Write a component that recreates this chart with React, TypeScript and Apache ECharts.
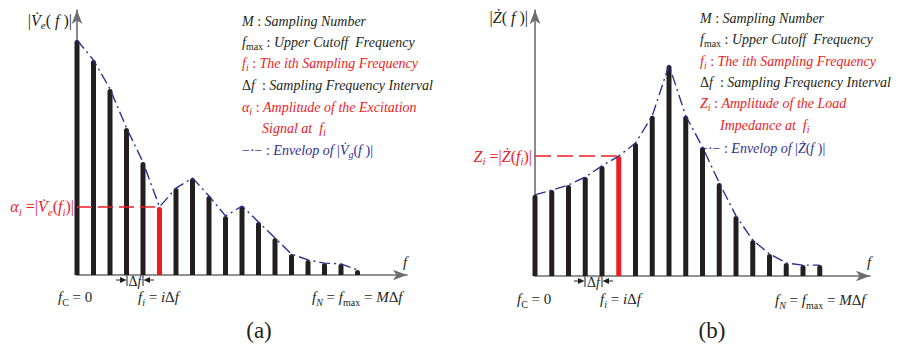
import React, { useEffect, useRef } from 'react';
import * as echarts from 'echarts';

// ---- data ----
const sampleIndex = [0, 1, 2, 3, 4, 5, 6, 7, 8, 9, 10, 11, 12, 13, 14, 15, 16, 17];
const excitationAmp = [88.7, 81.1, 70.2, 55.5, 42.6, 25.7, 32.8, 36.6, 29.8, 22.3, 26.0, 20.0, 14.0, 7.9, 5.7, 4.5, 4.2, 1.9];
const loadImpedance = [30.5, 32.3, 34.2, 37.2, 41.4, 45.1, 50.0, 60.2, 79.3, 60.2, 48.5, 35.0, 22.6, 13.5, 8.3, 4.9, 4.1, 4.1];
const highlightIndex = 5;

const leftLegendLines = [
  '{it|M}{rm| : }{it|Sampling Number}',
  '{it|f}{subrm|max}{rm| : }{it|Upper Cutoff  Frequency}',
  '{it|f}{sub|i}{rm| : }{it|The ith Sampling Frequency}',
  '{rm|Δ}{it|f}{rm|  : }{it|Sampling Frequency Interval}',
  '{it|α}{sub|i}{rm| : }{it|Amplitude of the Excitation}',
  '{it|Signal at  f}{sub|i}',
  '{rm|−·−}{rm| : }{it|Envelop of }{rm||}{it|V̇}{sub|g}{rm|(}{it|f}{rm| )|}',
];
const rightLegendLines = [
  '{it|M}{rm| : }{it|Sampling Number}',
  '{it|f}{subrm|max}{rm| : }{it|Upper Cutoff  Frequency}',
  '{it|f}{sub|i}{rm| : }{it|The ith Sampling Frequency}',
  '{rm|Δ}{it|f}{rm|  : }{it|Sampling Frequency Interval}',
  '{it|Z}{sub|i}{rm| : }{it|Amplitude of the Load}',
  '{it|Impedance at  f}{sub|i}',
  '{rm|−·−}{rm| : }{it|Envelop of }{rm||}{it|Ż}{rm|(}{it|f}{rm| )|}',
];
const leftYLabel = '{rm||}{it|V̇}{sub|e}{rm|( }{it|f}{rm| )|}';
const rightYLabel = '{rm||}{it|Ż}{rm|( }{it|f}{rm| )|}';
const leftRedLabel = '{it|α}{sub|i}{rm| =|}{it|V̇}{sub|e}{rm|(}{it|f}{sub|i}{rm|)|}';
const rightRedLabel = '{it|Z}{sub|i}{rm| =|}{it|Ż}{rm|(}{it|f}{sub|i}{rm|)|}';
const f0Label = '{it|f}{subrm|C}{rm| = 0}';
const fiLabel = '{it|f}{sub|i}{rm| = }{it|i}{rm|Δ}{it|f}';
const fNLabel = '{it|f}{sub|N}{rm| = }{it|f}{subrm|max}{rm| = }{it|M}{rm|Δ}{it|f}';
const dfLabel = '{rm|Δ}{it|f}';

// ---- styles ----
const FONT = "'Liberation Serif', 'Times New Roman', serif";
const BLACK = '#231f20';
const RED = '#ed1c24';
const NAVY = '#2e3192';
const AXIS = '#6d6e71';

function zrRich(size: number, fill: string) {
  const lh = Math.round(size * 1.3);
  const sub = Math.round(size * 0.68);
  const base = { fontFamily: FONT, fill, lineHeight: lh };
  return {
    it: { ...base, fontSize: size, fontStyle: 'italic', verticalAlign: 'middle' },
    rm: { ...base, fontSize: size, fontStyle: 'normal', verticalAlign: 'middle' },
    sub: { ...base, fontSize: sub, fontStyle: 'italic', verticalAlign: 'bottom' },
    subrm: { ...base, fontSize: sub, fontStyle: 'normal', verticalAlign: 'bottom' },
  };
}
function ecRich(size: number, color: string) {
  const lh = Math.round(size * 1.3);
  const sub = Math.round(size * 0.68);
  const base = { fontFamily: FONT, color, lineHeight: lh };
  return {
    it: { ...base, fontSize: size, fontStyle: 'italic', verticalAlign: 'middle' },
    rm: { ...base, fontSize: size, fontStyle: 'normal', verticalAlign: 'middle' },
    sub: { ...base, fontSize: sub, fontStyle: 'italic', verticalAlign: 'bottom' },
    subrm: { ...base, fontSize: sub, fontStyle: 'normal', verticalAlign: 'bottom' },
  };
}
function txt(x: number, y: number, text: string, size: number, fill: string, align = 'left') {
  return {
    type: 'text',
    x,
    y,
    silent: true,
    style: {
      text,
      rich: zrRich(size, fill),
      fill,
      fontFamily: FONT,
      fontSize: size,
      align,
      verticalAlign: 'middle',
      textAlign: align,
      textVerticalAlign: 'middle',
    },
  };
}
function bracket(xl: number, xr: number, y: number) {
  const s = { stroke: BLACK, lineWidth: 1 };
  return [
    { type: 'line', silent: true, shape: { x1: xl - 11, y1: y, x2: xl - 3, y2: y }, style: s },
    { type: 'polygon', silent: true, shape: { points: [[xl - 7, y - 3], [xl - 0.5, y], [xl - 7, y + 3]] }, style: { fill: BLACK } },
    { type: 'line', silent: true, shape: { x1: xl, y1: y - 5, x2: xl, y2: y + 6 }, style: s },
    { type: 'line', silent: true, shape: { x1: xr, y1: y - 5, x2: xr, y2: y + 6 }, style: s },
    { type: 'polygon', silent: true, shape: { points: [[xr + 7, y - 3], [xr + 0.5, y], [xr + 7, y + 3]] }, style: { fill: BLACK } },
    { type: 'line', silent: true, shape: { x1: xr + 3, y1: y, x2: xr + 11, y2: y }, style: s },
    txt((xl + xr) / 2, y + 1, dfLabel, 14, BLACK, 'center'),
  ];
}

function axisPair(gridIndex: number) {
  const line = {
    show: true,
    onZero: false,
    symbol: ['none', 'arrow'],
    symbolSize: [8, 14],
    lineStyle: { color: AXIS, width: 1.6 },
  };
  return {
    x: {
      type: 'value', gridIndex, min: 0, max: 20,
      axisLine: line, axisTick: { show: false }, axisLabel: { show: false }, splitLine: { show: false },
    },
    y: {
      type: 'value', gridIndex, min: 0, max: 100,
      axisLine: line, axisTick: { show: false }, axisLabel: { show: false }, splitLine: { show: false },
    },
  };
}

function panelSeries(idx: number, values: number[], label: string, dash: number[]) {
  return [
    {
      type: 'bar',
      xAxisIndex: idx,
      yAxisIndex: idx,
      barWidth: 5,
      clip: false,
      z: 2,
      itemStyle: { color: BLACK, borderRadius: [2.5, 2.5, 0, 0] },
      data: sampleIndex.map((i) => ({
        value: [i, values[i]],
        itemStyle: i === highlightIndex ? { color: RED } : undefined,
      })),
      markLine: {
        silent: true,
        animation: false,
        symbol: ['none', 'none'],
        lineStyle: { color: RED, width: 1.6, type: dash },
        label: {
          show: true,
          position: 'start',
          distance: 3,
          formatter: () => label,
          rich: ecRich(16, RED),
        },
        data: [[
          { coord: [0, values[highlightIndex]] },
          { coord: [highlightIndex, values[highlightIndex]] },
        ]],
      },
    },
    {
      type: 'line',
      xAxisIndex: idx,
      yAxisIndex: idx,
      z: 3,
      symbol: 'none',
      silent: true,
      lineStyle: { color: NAVY, width: 1.4, type: [11, 4, 2, 4] },
      data: sampleIndex.map((i) => [i, values[i]]),
    },
  ];
}

export default function App() {
  const ref = useRef<HTMLDivElement>(null);
  useEffect(() => {
    document.body.style.margin = '0';
    if (!ref.current) return;
    const chart = echarts.init(ref.current, null, { renderer: 'svg' });
    const a0 = axisPair(0);
    const a1 = axisPair(1);
    const leftYs = [21, 42, 63, 85, 107, 128, 150];
    const rightYs = [18, 39, 61, 82, 103, 125, 148];
    const legendColor = [BLACK, BLACK, RED, BLACK, RED, RED, NAVY];
    const graphics: any[] = [];
    leftLegendLines.forEach((t, i) => graphics.push(txt(i === 5 ? 262 : 242, leftYs[i], t, 14, legendColor[i])));
    rightLegendLines.forEach((t, i) => graphics.push(txt(i === 5 ? 720 : 700, rightYs[i], t, 14, legendColor[i])));
    graphics.push(txt(72, 20, leftYLabel, 16, BLACK, 'right'));
    graphics.push(txt(528, 17, rightYLabel, 16, BLACK, 'right'));
    graphics.push(txt(58, 297, f0Label, 15, BLACK));
    graphics.push(txt(138, 297, fiLabel, 15, BLACK));
    graphics.push(txt(312, 297, fNLabel, 15, BLACK));
    graphics.push(txt(517, 299, f0Label, 15, BLACK));
    graphics.push(txt(600, 299, fiLabel, 15, BLACK));
    graphics.push(txt(775, 300, fNLabel, 15, BLACK));
    graphics.push(txt(403, 262, '{it|f}', 15, BLACK));
    graphics.push(txt(867, 262, '{it|f}', 15, BLACK));
    graphics.push(...bracket(127, 143, 280));
    graphics.push(...bracket(585, 602, 281));
    graphics.push({ type: 'text', x: 259, y: 330, silent: true, style: { text: '(a)', fill: BLACK, fontFamily: FONT, fontSize: 23, align: 'center', verticalAlign: 'middle', textAlign: 'center', textVerticalAlign: 'middle' } });
    graphics.push({ type: 'text', x: 712, y: 330, silent: true, style: { text: '(b)', fill: BLACK, fontFamily: FONT, fontSize: 23, align: 'center', verticalAlign: 'middle', textAlign: 'center', textVerticalAlign: 'middle' } });

    chart.setOption({
      animation: false,
      backgroundColor: '#ffffff',
      grid: [
        { left: 77, top: 10, width: 330, height: 265 },
        { left: 535, top: 10, width: 335, height: 266 },
      ],
      xAxis: [a0.x, a1.x],
      yAxis: [a0.y, a1.y],
      series: [
        ...panelSeries(0, excitationAmp, leftRedLabel, [15, 6]),
        ...panelSeries(1, loadImpedance, rightRedLabel, [16, 6]),
      ],
      graphic: graphics,
    });
    return () => chart.dispose();
  }, []);
  return <div ref={ref} style={{ width: 899, height: 346 }} />;
}
